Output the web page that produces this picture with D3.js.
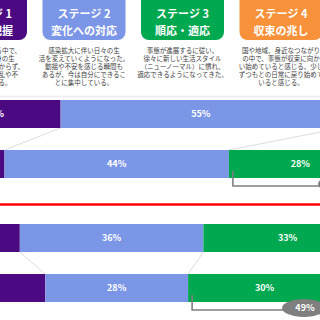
<!DOCTYPE html>
<html>
<head>
<meta charset="utf-8">
<script src="https://cdn.jsdelivr.net/npm/d3@7"></script>
<style>
  body { margin: 0; background: #fff; }
  svg { display: block; font-family: "Noto Sans CJK JP", "Noto Sans", sans-serif; }
</style>
</head>
<body>
<svg id="chart" width="320" height="320"></svg>
<script>
// stage headers
const stages = ["ステージ 1", "ステージ 2", "ステージ 3", "ステージ 4"];
const stageNames = ["混乱・把握", "変化への対応", "順応・適応", "収束の兆し"];
const stageColors = ["#4b0a82", "#7b96e6", "#00a84f", "#f7923a"];
const stageNotes = [
  ["感染拡大を見せる中で、", "今後の自分自身の生", "活がどうなるかわからず、", "大きな不安や混乱や不", "満を感じている。"],
  ["感染拡大に伴い日々の生", "活を変えていくようになった。", "動揺や不安を感じる瞬間も", "あるが、今は自分にできるこ", "とに集中している。"],
  ["事態が進展するに従い、", "徐々に新しい生活スタイル", "（ニューノーマル）に慣れ、", "適応できるようになってきた。"],
  ["国や地域、身近なつながり", "の中で、事態が収束に向か", "い始めていると感じる。少し", "ずつもとの日常に戻り始めて", "いると感じる。"]
];

// rows (two groups split by the red line)
const rows = ["全体 前回", "全体 今回", "比較 前回", "比較 今回"];
const stage1 = [26, 15, 18, 23];
const stage2 = [55, 44, 36, 28];
const stage3 = [12, 28, 33, 30];
const stage4 = [7, 13, 13, 19];

const svg = d3.select("#chart");

// header boxes
const boxW = 83, step = 98.5, x0 = -56;
const head = svg.append("g").selectAll("g").data(stages).enter().append("g")
  .attr("transform", (d, i) => `translate(${x0 + i * step},0)`);

head.append("rect")
  .attr("x", 0).attr("y", -20).attr("width", boxW).attr("height", 60)
  .attr("rx", 8)
  .attr("fill", (d, i) => stageColors[i]);

head.append("text")
  .attr("x", boxW / 2).attr("y", 17.5)
  .attr("text-anchor", "middle")
  .attr("fill", "#fff").attr("font-size", 11).attr("font-weight", "bold")
  .text(d => d);

head.append("text")
  .attr("x", boxW / 2).attr("y", 35)
  .attr("text-anchor", "middle")
  .attr("fill", "#fff").attr("font-size", 11).attr("font-weight", "bold")
  .text((d, i) => stageNames[i]);

head.each(function(d, i) {
  d3.select(this).selectAll("text.note")
    .data(stageNotes[i]).enter().append("text")
    .attr("class", "note")
    .attr("x", boxW / 2)
    .attr("y", (t, j) => 52.5 + j * 8.2)
    .attr("text-anchor", "middle")
    .attr("fill", "#404040").attr("font-size", 6.5)
    .text(t => t);
});

// faint separator under header
svg.append("line")
  .attr("x1", 0).attr("x2", 320).attr("y1", 96.5).attr("y2", 96.5)
  .attr("stroke", "#f1eaf4").attr("stroke-width", 1.5);

// scales
const x = d3.scaleLinear().domain([0, 100]).range([-72, 438]);
const y = d3.scaleOrdinal().domain(rows).range([100, 150, 224, 274]);
const barH = 28;

const table = rows.map((r, i) => {
  const vals = [stage1[i], stage2[i], stage3[i], stage4[i]];
  let acc = 0;
  return { row: r, segs: vals.map((v, k) => { const s = { k, v, a: acc, b: acc + v }; acc += v; return s; }) };
});

// connector lines between paired rows
const pairs = [[0, 1], [2, 3]];
pairs.forEach(([p, q]) => {
  [0, 1].forEach(k => {
    svg.append("line")
      .attr("x1", x(table[p].segs[k].b)).attr("y1", y(rows[p]) + barH)
      .attr("x2", x(table[q].segs[k].b)).attr("y2", y(rows[q]))
      .attr("stroke", "#cfcfcf").attr("stroke-width", 0.7);
  });
});

// bars
const rowG = svg.append("g").selectAll("g").data(table).enter().append("g")
  .attr("transform", d => `translate(0,${y(d.row)})`);

rowG.selectAll("rect").data(d => d.segs).enter().append("rect")
  .attr("x", s => x(s.a))
  .attr("width", s => x(s.b) - x(s.a))
  .attr("y", 0).attr("height", barH)
  .attr("fill", s => stageColors[s.k]);

rowG.selectAll("text").data(d => d.segs).enter().append("text")
  .attr("x", s => (x(s.a) + x(s.b)) / 2)
  .attr("y", barH / 2 + 3.3)
  .attr("text-anchor", "middle")
  .attr("fill", "#fff").attr("font-size", 9).attr("font-weight", "bold")
  .text(s => s.v + "%");

// red divider
svg.append("line")
  .attr("x1", 0).attr("x2", 320).attr("y1", 204.5).attr("y2", 204.5)
  .attr("stroke", "#ff0000").attr("stroke-width", 2.5);

// brackets: stage 3 + stage 4 share
[1, 3].forEach(i => {
  const d = table[i];
  const left = x(d.segs[2].a) + 4;
  const top = y(rows[i]) + barH - 7;
  const by = y(rows[i]) + barH + 8;
  const cx = i === 1 ? 340 : 304;
  svg.append("path")
    .attr("d", `M${left},${top}V${by}H${cx - 15}`)
    .attr("fill", "none").attr("stroke", "#7f7f7f").attr("stroke-width", 1.6);
  svg.append("ellipse")
    .attr("cx", cx).attr("cy", by - 2).attr("rx", 22).attr("ry", 9)
    .attr("fill", "#7f7f7f");
  svg.append("text")
    .attr("x", cx + 1).attr("y", by + 1.3)
    .attr("text-anchor", "middle")
    .attr("fill", "#fff").attr("font-size", 9).attr("font-weight", "bold")
    .text((d.segs[2].v + d.segs[3].v) + "%");
});
</script>
</body>
</html>
